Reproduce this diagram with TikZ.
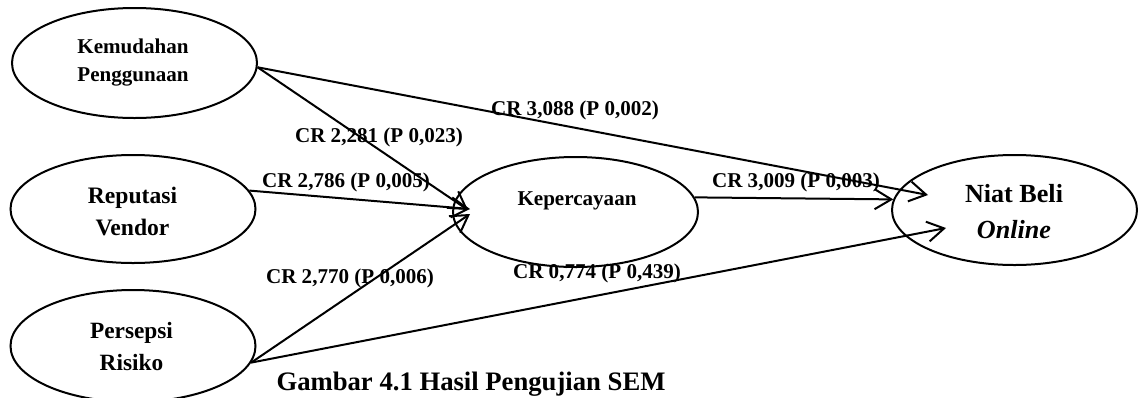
\documentclass[tikz,border=0pt]{standalone}
\usepackage{fontspec}
\setmainfont{Liberation Serif}
\usetikzlibrary{shapes}
\usetikzlibrary{arrows.meta}

\begin{document}
\begin{tikzpicture}[x=0.75pt,y=0.75pt,yscale=-1,xscale=1,
  latent/.style={draw, ellipse, line width=1.5pt, minimum width=183.75pt, minimum height=82.5pt, inner sep=0pt},
  link/.style={line width=1.5pt, -{Straight Barb[length=12.5pt,width=15pt,line width=1.5pt]}},
  crlbl/.style={inner sep=0pt, font=\fontsize{15.8}{19}\selectfont\bfseries},
  vartxt/.style={inner sep=0pt, align=center}]
\useasboundingbox (0,0) rectangle (1141,397);

%Shape: Ellipse
\node [latent] (kemudahan) at (134.5,63) {};
\node [latent, minimum height=81pt] (reputasi) at (133,209) {};
\node [latent, minimum height=84pt] (persepsi) at (133,346) {};
\node [latent] (kep) at (575.5,212) {};
\node [latent] (niat) at (1014.5,210) {};

% Text Node
\node [vartxt, font=\fontsize{15.8}{21}\selectfont\bfseries] (kemudahanT) at (133,63) {Kemudahan\\Penggunaan};
% Text Node
\node [vartxt, font=\fontsize{17.7}{24}\selectfont\bfseries] (reputasiT) at (132.5,211) {Reputasi\\Vendor};
% Text Node
\node [vartxt, font=\fontsize{17.5}{24}\selectfont\bfseries] (persepsiT) at (131.5,346.5) {Persepsi\\Risiko};
% Text Node
\node [vartxt, font=\fontsize{15.8}{19}\selectfont\bfseries] (kepT) at (577,201) {Kepercayaan};
% Text Node
\node [vartxt, font=\fontsize{19.6}{27}\selectfont\bfseries] (niatT) at (1014,212) {Niat Beli\\\textit{Online}};

% arrow ends
\coordinate (kepA) at (468,210);
\coordinate (kepB) at (470,209);
\coordinate (kepC) at (470,214);
\coordinate (niatA) at (928,195);
\coordinate (niatB) at (946,228);

%Straight Lines
\draw [link] (kemudahan.-2) -- (kepA);
\draw [link] (reputasi.9) -- (kepB);
\draw [link] (persepsi.-8) -- (kepC);
\draw [link] (kemudahan.-2) -- (niatA);
\draw [link] (kep.7) -- (niat.175);
\draw [link] (persepsi.-8) -- (niatB);

% Text Node
\node [crlbl] (cr1) at (379,137) {CR 2,281 (P 0,023)};
% Text Node
\node [crlbl] (cr2) at (346,182) {CR 2,786 (P 0,005)};
% Text Node
\node [crlbl] (cr3) at (575,110) {CR 3,088 (P 0,002)};
% Text Node
\node [crlbl] (cr4) at (796,182) {CR 3,009 (P 0,003)};
% Text Node
\node [crlbl] (cr5) at (350,278) {CR 2,770 (P 0,006)};
% Text Node
\node [crlbl] (cr6) at (597,273) {CR 0,774 (P 0,439)};
% Text Node
\node [inner sep=0pt, font=\fontsize{20}{24}\selectfont\bfseries] (caption) at (471,384) {Gambar 4.1 Hasil Pengujian SEM};

\end{tikzpicture}
\end{document}
